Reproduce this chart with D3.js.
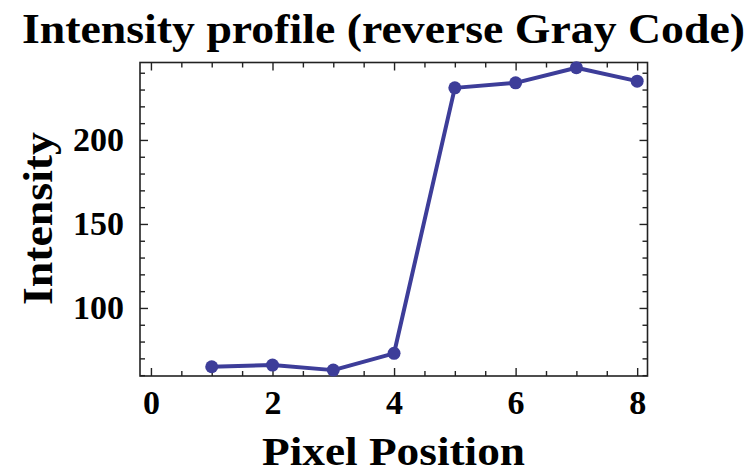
<!DOCTYPE html>
<html>
<head>
<meta charset="utf-8">
<script src="https://cdn.jsdelivr.net/npm/d3@7"></script>
<style>
  html, body { margin: 0; padding: 0; background: #fff; }
  svg { display: block; }
  text { font-family: "Liberation Serif", "Times New Roman", serif; font-weight: bold; fill: #000; }
</style>
</head>
<body>
<script>
// ---- data ----
const pixelPositions = [1, 2, 3, 4, 5, 6, 7, 8];
const intensities = [65, 66, 63, 73, 231, 234, 243, 235];
const xTickLabels = [0, 2, 4, 6, 8];
const yTickLabels = [100, 150, 200];
const titleText = "Intensity profile (reverse Gray Code)";
const xLabelText = "Pixel Position";
const yLabelText = "Intensity";

// ---- layout ----
const W = 750, H = 473;
const plot = { left: 140, right: 647.5, top: 62.5, bottom: 376 };
const lineColor = "#3d3d99";

const svg = d3.select("body").append("svg").attr("width", W).attr("height", H);

const x = d3.scaleLinear().domain([-0.18, 8.17]).range([plot.left, plot.right]);
const y = d3.scaleLinear().domain([59.5, 246.1]).range([plot.bottom, plot.top]);

// minor/major tick sets
const xMinor = d3.range(0, 8.01, 0.5).filter(v => !xTickLabels.includes(v));
const yMinor = d3.range(60, 246, 10).filter(v => !yTickLabels.includes(v));

const plotW = plot.right - plot.left, plotH = plot.bottom - plot.top;

// axes with inward ticks
function drawAxis(axis, tr) {
  const g = svg.append("g").attr("transform", tr).call(axis);
  g.select(".domain").remove();
  g.selectAll("line").attr("stroke", "#222").attr("stroke-width", 1.4);
  return g;
}
// bottom
const gb = drawAxis(d3.axisBottom(x).tickValues(xTickLabels).tickFormat(d3.format("d")).tickSizeInner(-8).tickSizeOuter(0).tickPadding(14), `translate(0,${plot.bottom})`);
gb.selectAll("text").attr("font-size", 34).attr("font-family", "Liberation Serif").attr("font-weight", "bold");
drawAxis(d3.axisBottom(x).tickValues(xMinor).tickFormat("").tickSizeInner(-5).tickSizeOuter(0), `translate(0,${plot.bottom})`);
// top
drawAxis(d3.axisTop(x).tickValues(xTickLabels).tickFormat("").tickSizeInner(-8).tickSizeOuter(0), `translate(0,${plot.top})`);
drawAxis(d3.axisTop(x).tickValues(xMinor).tickFormat("").tickSizeInner(-5).tickSizeOuter(0), `translate(0,${plot.top})`);
// left
const gl = drawAxis(d3.axisLeft(y).tickValues(yTickLabels).tickFormat(d3.format("d")).tickSizeInner(-8).tickSizeOuter(0).tickPadding(16), `translate(${plot.left},0)`);
gl.selectAll("text").attr("font-size", 34).attr("font-family", "Liberation Serif").attr("font-weight", "bold");
drawAxis(d3.axisLeft(y).tickValues(yMinor).tickFormat("").tickSizeInner(-5).tickSizeOuter(0), `translate(${plot.left},0)`);
// right
drawAxis(d3.axisRight(y).tickValues(yTickLabels).tickFormat("").tickSizeInner(-8).tickSizeOuter(0), `translate(${plot.right},0)`);
drawAxis(d3.axisRight(y).tickValues(yMinor).tickFormat("").tickSizeInner(-5).tickSizeOuter(0), `translate(${plot.right},0)`);

// frame
svg.append("rect")
  .attr("x", plot.left).attr("y", plot.top)
  .attr("width", plotW).attr("height", plotH)
  .attr("fill", "none").attr("stroke", "#222").attr("stroke-width", 1.6);

// data line
const pts = pixelPositions.map((p, i) => [p, intensities[i]]);
svg.append("path")
  .datum(pts)
  .attr("fill", "none")
  .attr("stroke", lineColor)
  .attr("stroke-width", 4)
  .attr("stroke-linejoin", "round")
  .attr("d", d3.line().x(d => x(d[0])).y(d => y(d[1])));

svg.append("g").selectAll("circle")
  .data(pts).enter().append("circle")
  .attr("cx", d => x(d[0])).attr("cy", d => y(d[1]))
  .attr("r", 6.5).attr("fill", lineColor);

// title
svg.append("text")
  .attr("x", 22).attr("y", 43)
  .attr("font-size", 43)
  .attr("textLength", 723).attr("lengthAdjust", "spacingAndGlyphs")
  .text(titleText);

// x label
svg.append("text")
  .attr("x", 262).attr("y", 465)
  .attr("font-size", 39)
  .attr("textLength", 263).attr("lengthAdjust", "spacingAndGlyphs")
  .text(xLabelText);

// y label
svg.append("text")
  .attr("transform", `translate(52,305) rotate(-90)`)
  .attr("font-size", 42)
  .attr("textLength", 173).attr("lengthAdjust", "spacingAndGlyphs")
  .text(yLabelText);
</script>
</body>
</html>
